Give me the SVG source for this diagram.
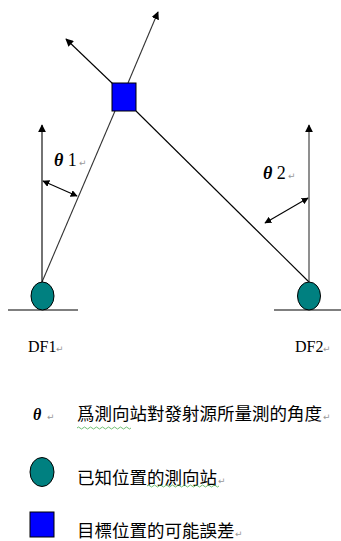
<svg xmlns="http://www.w3.org/2000/svg" width="341" height="541" viewBox="0 0 341 541">
<style>
.ln{stroke:#000;stroke-width:1.1;fill:none}
.ln2{stroke:#333;stroke-width:1.1;fill:none}
.stn{fill:#008080;stroke:#000;stroke-width:1}
.tgt{fill:#0000ff;stroke:#000;stroke-width:1}
.lat{font-family:"Liberation Serif",serif;font-size:16px;fill:#000}
.lbl{font-family:"Liberation Serif",serif;font-size:18px;fill:#000}
.th{font-family:"Liberation Serif",serif;font-size:16px;font-style:italic;font-weight:bold;fill:#000}
.cjk{font-family:"Liberation Sans","Noto Sans CJK TC",sans-serif;font-size:17.5px;fill:#000}
.ret{font-family:"DejaVu Sans",sans-serif;font-size:9px;fill:#999}
.wavy{stroke:#4caf50;stroke-width:0.8;fill:none}
</style>
<defs>
<marker id="ah" viewBox="0 0 10 10" refX="9" refY="5" markerWidth="7" markerHeight="7" orient="auto-start-reverse" markerUnits="userSpaceOnUse">
<path d="M0,0 L10,5 L0,10 z" fill="#000"/>
</marker>
<marker id="ah2" viewBox="0 0 10 10" refX="9" refY="5" markerWidth="8" markerHeight="8" orient="auto-start-reverse" markerUnits="userSpaceOnUse">
<path d="M0,0 L10,5 L0,10 z" fill="#000"/>
</marker>
</defs>
<g id="ground">
<line class="ln" x1="8" y1="310" x2="78" y2="310"/>
<line class="ln" x1="274" y1="310" x2="341" y2="310"/>
</g>
<g id="connectors">
<line class="ln2" x1="42" y1="282" x2="115" y2="111"/>
<line class="ln" x1="136" y1="111" x2="309" y2="282"/>
<line class="ln" x1="42" y1="282" x2="42" y2="125" marker-end="url(#ah2)"/>
<line class="ln2" x1="309" y1="282" x2="309" y2="125" marker-end="url(#ah2)"/>
<line class="ln" x1="43" y1="181" x2="77" y2="196" marker-start="url(#ah)" marker-end="url(#ah)"/>
<line class="ln" x1="308" y1="198" x2="265" y2="223" marker-start="url(#ah)" marker-end="url(#ah)"/>
<line class="ln2" x1="128" y1="83" x2="158" y2="12" marker-end="url(#ah2)"/>
<line class="ln" x1="113" y1="84" x2="66" y2="39" marker-end="url(#ah2)"/>
</g>
<g id="target">
<rect class="tgt" x="112" y="83" width="24" height="28"/>
</g>
<g id="df1">
<ellipse class="stn" cx="42.5" cy="296" rx="11.5" ry="14"/>
<text class="lat" x="28" y="352">DF1</text><text class="ret" x="56" y="352">↵</text>
</g>
<g id="df2">
<ellipse class="stn" cx="309" cy="296" rx="11.5" ry="14"/>
<text class="lat" x="295" y="352">DF2</text><text class="ret" x="323" y="352">↵</text>
</g>
<g id="theta1">
<text class="lbl" x="54" y="166"><tspan font-style="italic" font-weight="bold">θ</tspan> 1</text><text class="ret" x="79" y="166">↵</text>
</g>
<g id="theta2">
<text class="lbl" x="263" y="179"><tspan font-style="italic" font-weight="bold">θ</tspan> 2</text><text class="ret" x="288" y="179">↵</text>
</g>
<g id="legend-theta">
<text class="th" x="33" y="420">θ</text><text class="ret" x="47" y="420">↵</text>
<text class="cjk" x="77" y="420">爲測向站對發射源所量測的角度</text><text class="ret" x="323" y="420">↵</text>
<path class="wavy" d="M77,428 q1.5,-2 3,0 t3,0 t3,0 t3,0 t3,0 t3,0 t3,0 t3,0 t3,0 t3,0 t3,0 t3,0 t3,0 t3,0 t3,0 t3,0 t3,0 t3,0"/>
</g>
<g id="legend-station">
<ellipse class="stn" cx="42" cy="472" rx="12" ry="14.5"/>
<text class="cjk" x="77" y="484">已知位置的測向站</text><text class="ret" x="218" y="484">↵</text>
<path class="wavy" d="M147,486 q1.5,-2 3,0 t3,0 t3,0 t3,0 t3,0 t3,0 t3,0 t3,0 t3,0 t3,0 t3,0 t3,0 t3,0 t3,0 t3,0 t3,0 t3,0 t3,0 t3,0 t3,0 t3,0 t3,0 t3,0 t3,0"/>
</g>
<g id="legend-target">
<rect class="tgt" x="30" y="512" width="24" height="25"/>
<text class="cjk" x="77" y="537">目標位置的可能誤差</text><text class="ret" x="235" y="537">↵</text>
</g>
</svg>
